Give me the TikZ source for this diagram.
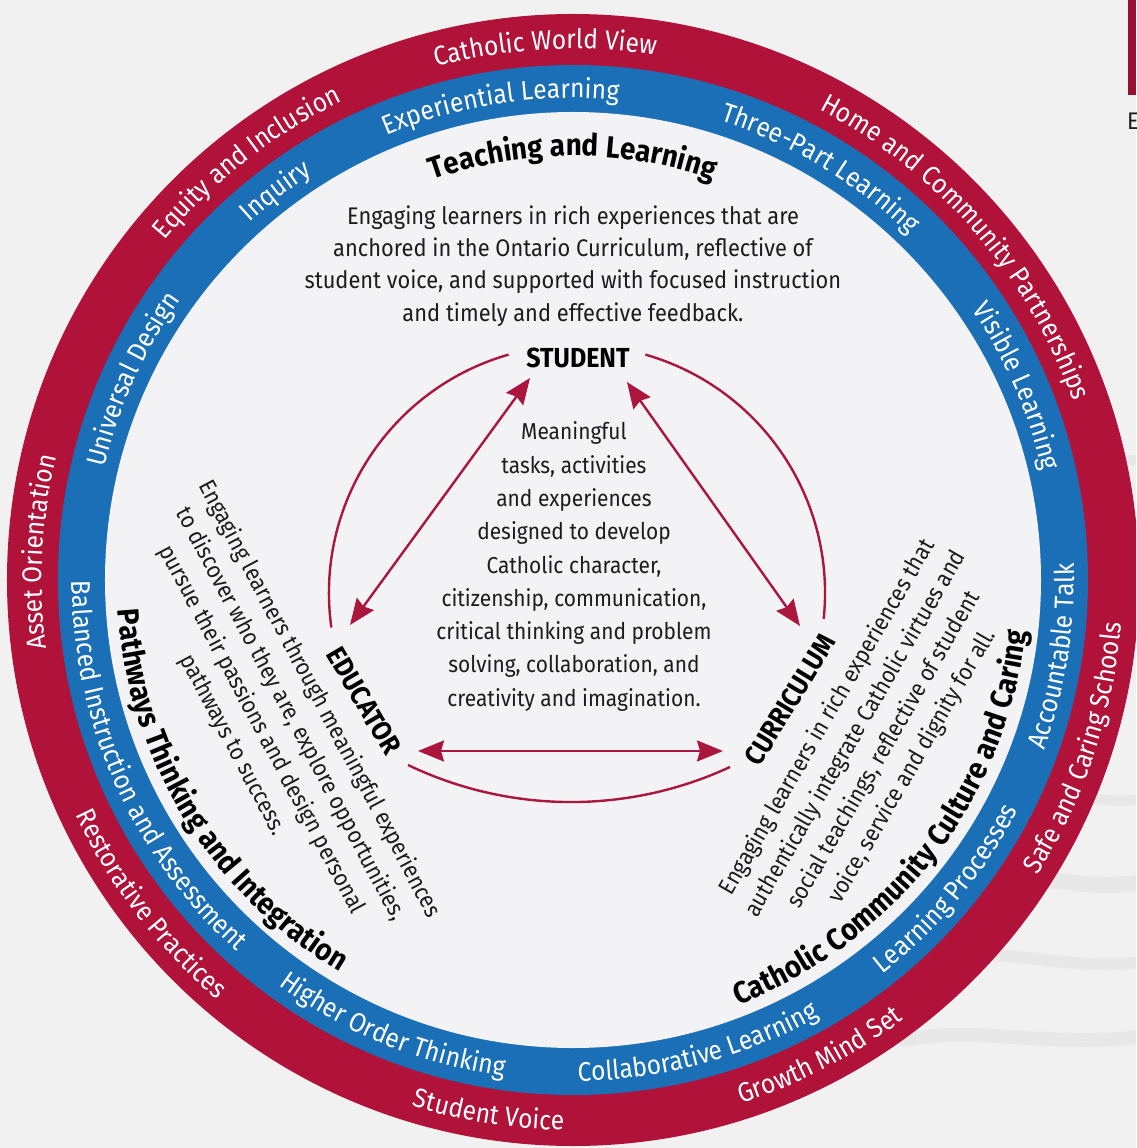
\documentclass[tikz,border=0pt]{standalone}
\usepackage{fontspec}
\setmainfont{Fira Sans}[FakeStretch=0.91]
\usetikzlibrary{decorations.text, arrows.meta}
\definecolor{ringred}{RGB}{176,18,58}
\definecolor{ringblue}{RGB}{27,111,182}
\definecolor{arrowred}{RGB}{170,22,62}
\definecolor{innerbg}{RGB}{243,243,245}
\definecolor{outerbg}{RGB}{241,241,242}
\definecolor{streak}{RGB}{212,212,214}
\definecolor{txt}{RGB}{28,28,28}
\definecolor{cornerred}{RGB}{150,16,48}
\newcommand\ringfont{\fontsize{27}{27}\selectfont\color{white}}
\newcommand\titlefont{\bfseries\fontsize{30.5}{30.5}\selectfont\color{black}}
\newcommand\cwtext[4]{%
  \path[decorate, decoration={text along path, text align=center, text={|#3|#4}}]
    ({#1+70}:#2) arc[start angle={#1+70}, end angle={#1-70}, radius=#2];}
\newcommand\ccwtext[4]{%
  \path[decorate, decoration={text along path, text align=center, text={|#3|#4}}]
    ({#1-70}:#2) arc[start angle={#1-70}, end angle={#1+70}, radius=#2];}
\begin{document}
\begin{tikzpicture}[x=1pt,y=1pt,
  para/.style={align=center, text=txt, font=\fontsize{24}{32.3}\selectfont, inner sep=0pt},
  sidepara/.style={align=center, text=txt, font=\fontsize{23.5}{32.6}\selectfont, inner sep=0pt},
  midpara/.style={align=center, text=txt, font=\fontsize{23}{33.3}\selectfont, inner sep=0pt},
  rolelabel/.style={text=black, font=\bfseries\fontsize{27.5}{27.5}\selectfont, inner sep=0pt},
  linkarc/.style={draw=arrowred, line width=2.4pt},
  linkarrow/.style={draw=arrowred, line width=2.4pt, {Stealth[length=26pt,width=21pt,inset=3pt]}-{Stealth[length=26pt,width=21pt,inset=3pt]}},
  streakline/.style={draw=streak, line cap=round, opacity=0.3}
]
\useasboundingbox (-573,-568) rectangle (563,580);
\clip (-573,-568) rectangle (563,580);
\fill[outerbg] (-573,-568) rectangle (563,580);
% soft background streaks (right side)
\draw[streakline, line width=16pt] (420,-300) .. controls (470,-290) and (510,-315) .. (580,-300);
\draw[streakline, line width=12pt] (380,-380) .. controls (440,-365) and (500,-395) .. (580,-380);
\draw[streakline, line width=14pt] (330,-460) .. controls (410,-445) and (480,-470) .. (580,-455);
\draw[streakline, line width=10pt] (480,-220) .. controls (515,-212) and (540,-228) .. (580,-216);
\draw[streakline, line width=10pt] (500,120) .. controls (525,128) and (545,115) .. (580,122);
% corner fragment
\fill[cornerred] (555,485) rectangle (563,580);
\node[anchor=base west, inner sep=0pt, text=txt, font=\fontsize{24}{24}\selectfont] (cornerE) at (554,450) {E};
% rings
\fill[ringred] (0,0) circle[radius=566pt];
\fill[ringblue] (0,0) circle[radius=515pt];
\fill[innerbg] (0,0) circle[radius=468pt];
% red ring labels
\cwtext{93}{531pt}{\ringfont}{Catholic World View}
\cwtext{41}{531pt}{\ringfont}{Home and Community Partnerships}
\cwtext{177}{531pt}{\ringfont}{Asset Orientation}
\cwtext{128}{531pt}{\ringfont}{Equity and Inclusion}
\ccwtext{-18.5}{550pt}{\ringfont}{Safe and Caring Schools}
\ccwtext{-62.6}{550pt}{\ringfont}{Growth Mind Set}
\ccwtext{-99}{550pt}{\ringfont}{Student Voice}
\ccwtext{-142.5}{550pt}{\ringfont}{Restorative Practices}
% blue ring labels
\cwtext{98.7}{482pt}{\ringfont}{Experiential Learning}
\cwtext{59}{482pt}{\ringfont}{Three-Part Learning}
\cwtext{23.6}{482pt}{\ringfont}{Visible Learning}
\cwtext{155.5}{482pt}{\ringfont}{Universal Design}
\cwtext{127.4}{482pt}{\ringfont}{Inquiry}
\ccwtext{-9}{501pt}{\ringfont}{Accountable Talk}
\ccwtext{-39.6}{501pt}{\ringfont}{Learning Processes}
\ccwtext{-75}{501pt}{\ringfont}{Collaborative Learning}
\ccwtext{-112}{501pt}{\ringfont}{Higher Order Thinking}
\ccwtext{-156}{501pt}{\ringfont}{Balanced Instruction and Assessment}
% inner titles
\cwtext{90}{424pt}{\titlefont}{Teaching and Learning}
\ccwtext{-148.5}{456pt}{\titlefont}{Pathways Thinking and Integration}
\ccwtext{-37.6}{456pt}{\titlefont}{Catholic Community Culture and Caring}
% paragraphs
\node[para] (toppara) at (0,314) {Engaging learners in rich experiences that are\\anchored in the Ontario Curriculum, reflective of\\student voice, and supported with focused instruction\\and timely and effective feedback.};
\node[midpara] (midpara) at (1,13.5) {Meaningful\\tasks, activities\\and experiences\\designed to develop\\Catholic character,\\citizenship, communication,\\critical thinking and problem\\solving, collaboration, and\\creativity and imagination.};
\node[sidepara, rotate=-62] (edupara) at (-297,-142) {Engaging learners through meaningful experiences\\to discover who they are, explore opportunities,\\pursue their passions and design personal\\pathways to success.};
\node[sidepara, rotate=60] (curpara) at (297,-162) {Engaging learners in rich experiences that\\authentically integrate Catholic virtues and\\social teachings, reflective of student\\voice, service and dignity for all.};
% role labels
\node[rolelabel] (student) at (5,222) {STUDENT};
\node[rolelabel, rotate=-59.5] (educator) at (-209,-121) {EDUCATOR};
\node[rolelabel, rotate=58.7] (curriculum) at (217,-120) {CURRICULUM};
% connector ends
\coordinate (arcLs) at (-64.4,225.4);
\coordinate (arcRs) at (72.4,225.4);
\coordinate (arcBs) at (-165,-185);
\coordinate (stuL) at (-43,202);
\coordinate (eduT) at (-223,-45);
\coordinate (stuR) at (54,198);
\coordinate (curT) at (227,-46);
\coordinate (eduR) at (-155,-171);
\coordinate (curL) at (150,-171);
% arcs
\draw[linkarc] (arcLs) arc[start angle=106, end angle=188, radius=248pt];
\draw[linkarc] (arcRs) arc[start angle=74, end angle=-6, radius=248pt];
\draw[linkarc] (arcBs) arc[start angle=244.4, end angle=294.9, radius=377.5pt];
% arrows
\draw[linkarrow] (stuL) -- (eduT);
\draw[linkarrow] (stuR) -- (curT);
\draw[linkarrow] (eduR) -- (curL);
\end{tikzpicture}
\end{document}
